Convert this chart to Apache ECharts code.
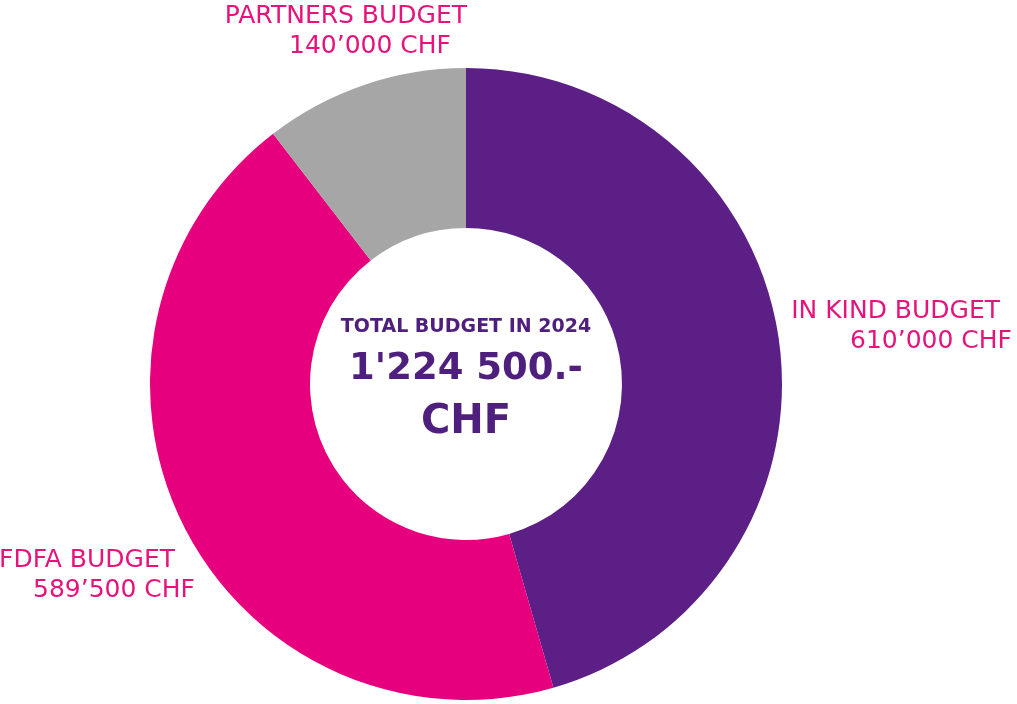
<!DOCTYPE html>
<html>
<head>
<meta charset="utf-8">
<style>
  html, body { margin: 0; padding: 0; background: #ffffff; }
  #chart { width: 1017px; height: 704px; }
</style>
<script src="https://cdn.jsdelivr.net/npm/echarts@6/dist/echarts.min.js"></script>
</head>
<body>
<div id="chart"></div>
<script>
// budget slices, clockwise from 12 o'clock
const names = ["IN KIND BUDGET", "FDFA BUDGET", "PARTNERS BUDGET"];
const values = [610000, 589500, 140000];
const colors = ["#5c1f86", "#e6007e", "#a6a6a6"];
const centerLines = ["TOTAL BUDGET IN 2024", "1'224 500.-", "CHF"];

// where each label block sits: right edge x, middle y, padding for line 1 / line 2
const labelSpots = [
    { x: 1012, y: 326, pad1: 12, pad2: 0 },
    { x: 195, y: 575, pad1: 20, pad2: 0 },
    { x: 467, y: 31, pad1: 0, pad2: 16 }
];

const pieCenter = [466, 384];

const fmt = v => String(v).replace(/\B(?=(\d{3})+(?!\d))/g, "\u2019") + " CHF";

const chart = echarts.init(document.getElementById("chart"));

let pieData = [];
for (let i = 0; i < names.length; i++) {
    pieData.push({
        name: names[i],
        value: values[i],
        itemStyle: { color: colors[i] },
        label: {
            rich: {
                a: { align: "right", padding: [0, labelSpots[i].pad1, 0, 0] },
                b: { align: "right", padding: [0, labelSpots[i].pad2, 0, 0] }
            }
        }
    });
}

const centerText = (text, y, size) => ({
    type: "text",
    x: pieCenter[0],
    y: y,
    z: 100,
    style: {
        text: text,
        font: "bold " + size + "px 'DejaVu Sans'",
        fill: "#4f1f7d",
        align: "center",
        verticalAlign: "middle"
    }
});

const option = {
    animation: false,
    series: [
        {
            type: "pie",
            center: pieCenter,
            radius: [156, 316],
            startAngle: 90,
            clockwise: true,
            silent: true,
            data: pieData,
            label: {
                show: true,
                position: "outside",
                overflow: "none",
                formatter: p => "{a|" + p.name + "}\n{b|" + fmt(p.value) + "}",
                fontFamily: "DejaVu Sans",
                fontSize: 25,
                color: "#e5137b",
                lineHeight: 30
            },
            labelLine: { show: false },
            labelLayout: params => {
                const s = labelSpots[params.dataIndex];
                return { x: s.x, y: s.y, align: "right", verticalAlign: "middle" };
            }
        }
    ],
    graphic: [
        centerText(centerLines[0], 327, 19),
        centerText(centerLines[1], 369, 37),
        centerText(centerLines[2], 423, 40)
    ]
};

chart.setOption(option);
</script>
</body>
</html>
